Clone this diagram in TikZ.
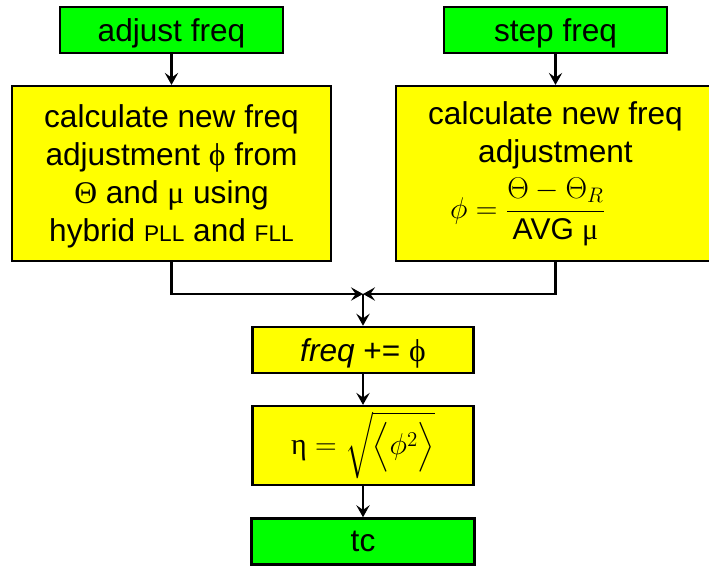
\RequirePackage{fix-cm}
\documentclass[tikz,border=0pt]{standalone}
\usepackage{amsmath}
\usepackage{fontspec}
\setmainfont{Liberation Sans}
\newfontfamily\symfont{Liberation Serif}
\usetikzlibrary{arrows.meta}
\definecolor{termgreen}{RGB}{0,255,0}
\definecolor{procyellow}{RGB}{255,255,0}
\tikzset{
  flowbox/.style={draw,line width=1.9pt,align=center,inner sep=0pt,text depth=0pt,
    font=\fontsize{23.7}{28.5}\selectfont},
  termbox/.style={flowbox,fill=termgreen,minimum width=167pt,minimum height=34.5pt},
  procbox/.style={flowbox,fill=procyellow},
  link/.style={-{Stealth[length=9pt,width=10pt,inset=3.5pt]},line width=1.8pt},
}
\newcommand{\gk}[1]{{\symfont #1}}
\newcommand{\smallcap}[1]{{\fontsize{17}{20}\selectfont #1}}
\newcommand{\mathsize}{\fontsize{22.5}{26}\selectfont}

\begin{document}
\begin{tikzpicture}[x=0.75pt,y=-0.75pt]
	\clip (0,0) rectangle (709,566);
	\node (adjust) at (171.5,30) [termbox] {adjust freq};
	\node (step) at (555.5,30) [termbox] {step freq};
	\node (calcpll) at (171.5,173.5) [procbox,minimum width=239pt,minimum height=131pt]
	  {calculate new freq\\adjustment \gk{ϕ} from\\\gk{Θ} and \gk{μ} using\\hybrid \smallcap{PLL} and \smallcap{FLL}};
	\node (calcstep) at (555.5,173.5) [procbox,text depth=,minimum width=239pt,minimum height=131pt]
	  {calculate new freq\\adjustment\\[6pt]
	  {\mathsize\llap{$\phi={}$}$\dfrac{\Theta-\Theta_R}{\text{AVG \gk{μ}}}$}};
	\node (update) at (363,350) [procbox,minimum width=166pt,minimum height=34.5pt]
	  {\textit{freq} += \gk{ϕ}};
	\node (jitter) at (363,445.5) [procbox,text depth=,minimum width=166pt,minimum height=59pt]
	  {{\mathsize$\text{\gk{η}}=\sqrt{\Big\langle\phi^{2}\Big\rangle}$}};
	\node (tc) at (363,541.5) [termbox] {tc};
	\coordinate (join) at (363,294);
	\draw [link] (adjust) -- (calcpll);
	\draw [link] (step) -- (calcstep);
	\draw [link] (calcpll.south) |- (join);
	\draw [link] (calcstep.south) |- (join);
	\draw [link] (join) -- (update);
	\draw [link] (update) -- (jitter);
	\draw [link] (jitter) -- (tc);
\end{tikzpicture}
\end{document}
